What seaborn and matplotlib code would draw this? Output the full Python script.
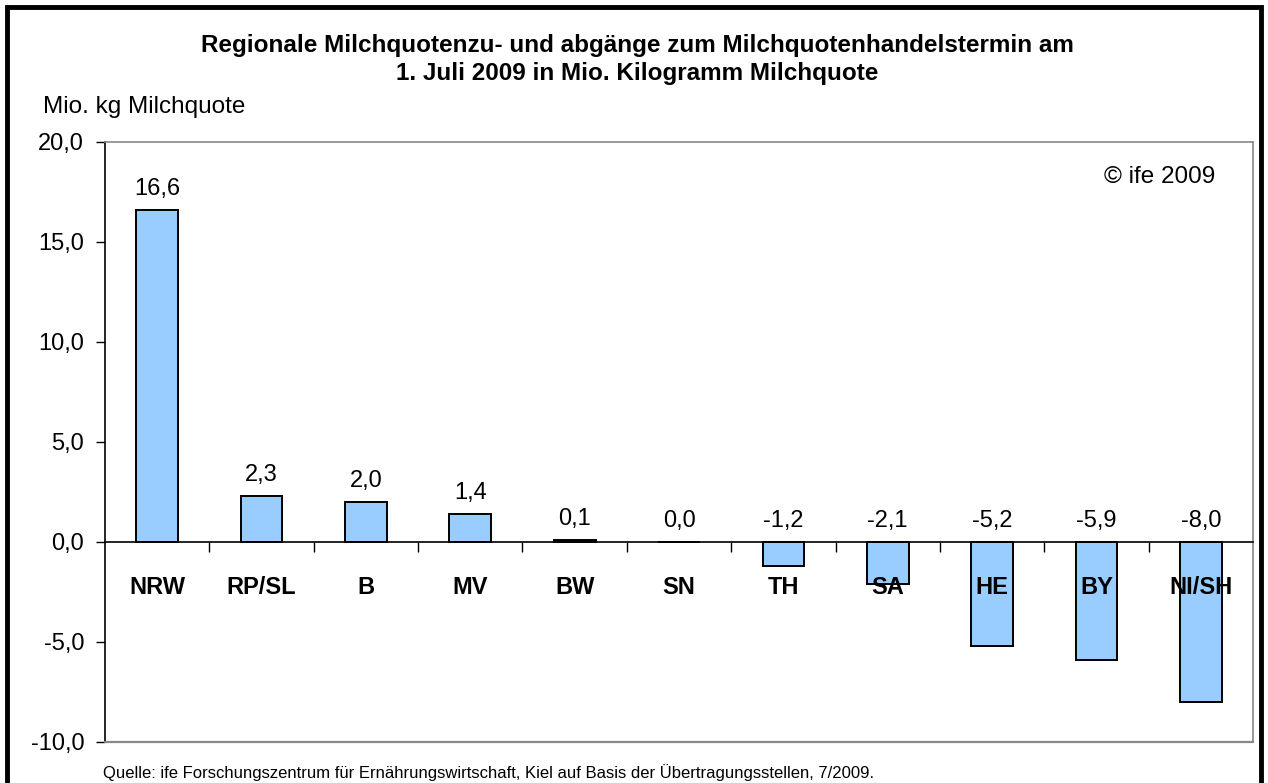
import numpy as np
import pandas as pd
import matplotlib
matplotlib.use("Agg")
import matplotlib.pyplot as plt
import seaborn as sns
from matplotlib.ticker import FuncFormatter, FixedLocator
from matplotlib.patches import Rectangle

# Daten (Mio. kg Milchquote, Handelstermin 1. Juli 2009)
regionen = ["NRW", "RP/SL", "B", "MV", "BW", "SN", "TH", "SA", "HE", "BY", "NI/SH"]
werte = [16.6, 2.3, 2.0, 1.4, 0.1, 0.0, -1.2, -2.1, -5.2, -5.9, -8.0]
y_ticks = [-10, -5, 0, 5, 10, 15, 20]

df = pd.DataFrame({"Region": regionen, "Wert": werte})

sns.set_style("white")
plt.rcParams["font.family"] = ["Liberation Sans", "DejaVu Sans"]
plt.rcParams["text.color"] = "black"
plt.rcParams["xtick.color"] = "black"
plt.rcParams["ytick.color"] = "black"

fig = plt.figure(figsize=(12.68, 7.83), dpi=100)
ax = fig.add_axes([0.0828, 0.0524, 0.9054, 0.7663])

sns.barplot(data=df, x="Region", y="Wert", color="#99CCFF", edgecolor="black",
            linewidth=1.4, width=0.40, saturation=1, ax=ax)

ax.set_ylim(-10, 20)
ax.set_xlim(-0.5, len(regionen) - 0.5)
ax.yaxis.set_major_locator(FixedLocator(y_ticks))
ax.yaxis.set_major_formatter(FuncFormatter(lambda v, p: f"{v:.1f}".replace(".", ",")))
ax.tick_params(axis="y", labelsize=17, length=6.5, width=1, direction="out", left=True,
               pad=8.5, labelcolor="black")

# x-Achse auf Nulllinie
ax.spines["bottom"].set_position(("data", 0))
ax.spines["bottom"].set_color("black")
ax.spines["left"].set_color("black")
ax.spines["top"].set_color("#888888")
ax.spines["right"].set_color("#888888")
for s in ax.spines.values():
    s.set_linewidth(1.2)
ax.axhline(-10, color="#888888", lw=1.6, clip_on=False, zorder=5)

ax.set_xticks(range(len(regionen)))
ax.set_xticklabels([])
ax.tick_params(axis="x", which="major", length=0)
ax.set_xticks(np.arange(0.5, len(regionen) - 0.5, 1), minor=True)
ax.tick_params(axis="x", which="minor", length=7, width=1, direction="out", bottom=True)
ax.set_xlabel("")
ax.set_ylabel("")

# Kategorien (über den Balken) und Wertbeschriftung
for i, (r, v) in enumerate(zip(regionen, werte)):
    ax.annotate(r, (i, 0), xytext=(0, -33), textcoords="offset points",
                ha="center", va="center", fontsize=17, fontweight="bold", zorder=10)
    txt = f"{v:.1f}".replace(".", ",")
    ax.annotate(txt, (i, max(v, 0)), xytext=(0, 11), textcoords="offset points",
                ha="center", va="baseline", fontsize=17, zorder=10)

ax.text(0.967, 0.942, "© ife 2009", transform=ax.transAxes, ha="right", va="center", fontsize=17.5)

fig.text(0.5028, 0.9234, "Regionale Milchquotenzu- und abgänge zum Milchquotenhandelstermin am\n"
         "1. Juli 2009 in Mio. Kilogramm Milchquote",
         ha="center", va="center", fontsize=17.5, fontweight="bold", linespacing=1.28)
fig.text(0.0339, 0.8633, "Mio. kg Milchquote", ha="left", va="center", fontsize=17.5)
fig.text(0.0812, 0.0140, "Quelle: ife Forschungszentrum für Ernährungswirtschaft, Kiel auf Basis der "
         "Übertragungsstellen, 7/2009.", ha="left", va="center", fontsize=12)

fig.patches.append(Rectangle((0.0055, -0.02), 0.989, 1.011, transform=fig.transFigure,
                             fill=False, edgecolor="black", linewidth=3.5))

fig.savefig("out.png", dpi=100)
